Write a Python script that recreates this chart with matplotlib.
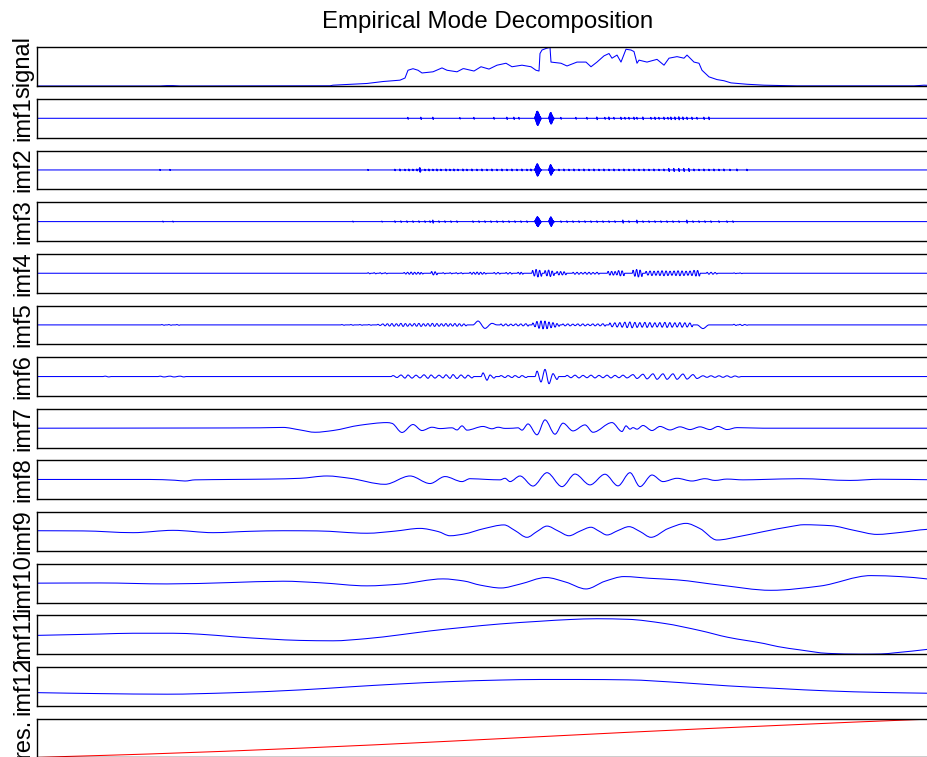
import numpy as np
import matplotlib
matplotlib.use("Agg")
import matplotlib.pyplot as plt
from matplotlib.path import Path
from matplotlib.patches import PathPatch

plt.rcParams["font.family"] = ["Liberation Sans", "DejaVu Sans"]

N = 902  # number of samples shown
LABELS = ["signal"] + [f"imf{k}" for k in range(1, 13)] + ["res."]

# --- signal (arbitrary units, 0..100) ---
SIG_T = [0, 123, 130, 136, 143, 293, 296, 330, 346, 363, 368, 371, 376, 381, 385, 396, 405, 410, 420, 426,
         427, 437, 444, 452, 460, 469, 475, 485, 494, 499, 502, 503, 505, 509, 513, 514, 524, 530, 540, 549,
         554, 560, 567, 572, 575, 580, 584, 589, 594, 597, 600, 602, 610, 620, 627, 632, 640, 647, 650, 657,
         662, 665, 672, 680, 687, 694, 710, 727, 760, 877, 887, 902]
SIG_V = [0.5, 0.5, 1.5, 1.5, 0.5, 1, 2.6, 7, 12, 15.5, 21, 41, 45, 41, 34, 37, 47, 41, 37, 45,
         45, 39, 50, 44, 54, 59, 50, 54, 50, 41, 39, 84, 93, 97, 100, 62, 59, 52, 62, 62,
         50, 62, 78, 84, 72, 80, 62, 95, 93, 89, 59, 67, 62, 69, 54, 72, 76, 72, 80, 62,
         59, 41, 24, 17, 14, 8.5, 5, 2.6, 0.8, 0.8, 2.6, 1]

# --- fast imfs: oscillation cycles (position, amplitude) ---
IMF1_T = [371, 384, 396, 423, 437, 457, 470, 477, 482,
          498, 498.5, 499, 499.5, 500, 500.5, 501, 501.5, 502, 502.5, 503, 503.5, 504,
          512, 512.5, 513, 513.5, 514, 514.5, 515, 515.5, 516, 516.5, 517,
          524, 539, 550, 560, 568, 572, 577, 584, 588, 592, 597, 600, 606, 614, 618, 622, 627, 631,
          634, 638, 642, 646, 650, 655, 660, 667, 672]
IMF1_A = [0.05, 0.06, 0.06, 0.04, 0.05, 0.05, 0.06, 0.06, 0.05,
          0.06, 0.12, 0.2, 0.28, 0.34, 0.37, 0.35, 0.3, 0.24, 0.18, 0.12, 0.07, 0.03,
          0.06, 0.14, 0.22, 0.28, 0.3, 0.27, 0.2, 0.14, 0.09, 0.05, 0.02,
          0.05, 0.05, 0.05, 0.07, 0.05, 0.07, 0.05, 0.06, 0.05, 0.05, 0.06, 0.05, 0.07, 0.05, 0.06, 0.05, 0.06, 0.05,
          0.07, 0.07, 0.08, 0.07, 0.06, 0.06, 0.05, 0.06, 0.07]

IMF2_T = [123, 133, 331, 358, 363, 368, 372, 376, 380, 382.5, 383, 383.5,
          388, 392, 396, 400, 404, 409, 413, 417, 421, 426, 430, 435, 440, 445, 450, 455, 460, 465,
          470, 475, 480, 485, 490, 494,
          498, 498.5, 499, 499.5, 500, 500.5, 501, 501.5, 502, 502.5, 503, 503.5, 504,
          512, 512.5, 513, 513.5, 514, 514.5, 515, 515.5, 516, 516.5, 517,
          522, 527, 532, 537, 542, 547, 552, 557, 562, 567, 572, 577, 582, 587, 592, 597, 602, 607,
          612, 617, 622, 627, 632, 637, 642, 647, 652, 657, 662, 667, 672, 677, 682, 687, 693, 700, 710]
IMF2_A = [0.03, 0.03, 0.03, 0.04, 0.05, 0.04, 0.05, 0.04, 0.05, 0.08, 0.12, 0.08,
          0.04, 0.05, 0.04, 0.05, 0.04, 0.05, 0.04, 0.05, 0.04, 0.05, 0.04, 0.05, 0.04, 0.05, 0.04, 0.05, 0.04, 0.05,
          0.04, 0.05, 0.04, 0.05, 0.04, 0.05,
          0.05, 0.1, 0.17, 0.24, 0.3, 0.32, 0.29, 0.24, 0.18, 0.13, 0.08, 0.05, 0.02,
          0.05, 0.12, 0.2, 0.26, 0.27, 0.22, 0.17, 0.12, 0.07, 0.04, 0.02,
          0.04, 0.05, 0.04, 0.05, 0.04, 0.05, 0.04, 0.05, 0.04, 0.05, 0.04, 0.05, 0.04, 0.05, 0.04, 0.05, 0.04, 0.05,
          0.04, 0.05, 0.04, 0.05, 0.08, 0.08, 0.08, 0.08, 0.08, 0.05, 0.04, 0.05, 0.04, 0.05, 0.04, 0.05, 0.04, 0.05, 0.04]

IMF3_T = [126, 136, 316, 345, 358, 364, 370, 376, 382, 388, 393, 396, 402, 408, 414, 420,
          436, 442, 448, 454, 460, 466, 472, 478, 484, 490,
          498, 498.5, 499, 499.5, 500, 500.5, 501, 501.5, 502, 502.5, 503, 503.5, 504,
          512, 512.5, 513, 513.5, 514, 514.5, 515, 515.5, 516, 516.5, 517,
          524, 530, 536, 542, 548, 554, 560, 566, 572, 578, 586, 592, 600, 606, 612, 618, 624, 630,
          636, 642, 650, 656, 662, 668, 674, 682, 690, 696]
IMF3_A = [0.03, 0.03, 0.03, 0.03, 0.04, 0.04, 0.04, 0.04, 0.04, 0.04, 0.04, 0.08, 0.04, 0.04, 0.04, 0.04,
          0.04, 0.04, 0.04, 0.04, 0.04, 0.04, 0.04, 0.04, 0.04, 0.04,
          0.04, 0.08, 0.13, 0.18, 0.22, 0.26, 0.24, 0.21, 0.17, 0.13, 0.09, 0.05, 0.02,
          0.04, 0.1, 0.16, 0.21, 0.25, 0.22, 0.17, 0.12, 0.07, 0.04, 0.02,
          0.04, 0.04, 0.04, 0.04, 0.04, 0.04, 0.04, 0.04, 0.04, 0.04, 0.08, 0.04, 0.08, 0.04, 0.04, 0.04, 0.04, 0.04,
          0.04, 0.04, 0.08, 0.04, 0.04, 0.04, 0.04, 0.04, 0.04, 0.04]

IMF4_T = [332, 338, 344, 349, 368, 371.5, 375, 378.5, 382, 385, 395.5, 399, 407, 414, 420, 425,
          434, 437.5, 441, 444.5, 448, 458, 462, 470, 474, 482, 485, 496.5, 500, 503.5, 509, 512.5, 516,
          521, 524.5, 528, 537, 541, 545, 549, 553, 557, 561, 572, 575.5, 579, 582.5, 586, 597, 600.5, 604,
          610, 614, 618, 622, 626, 630, 634, 638, 642, 646, 650, 654, 658, 661.5, 671, 675, 679, 698, 704]
IMF4_A = [0.03, 0.03, 0.03, 0.03, 0.04, 0.05, 0.06, 0.05, 0.05, 0.04, 0.09, 0.08, 0.03, 0.03, 0.03, 0.03,
          0.05, 0.05, 0.06, 0.05, 0.04, 0.04, 0.04, 0.04, 0.04, 0.05, 0.05, 0.15, 0.2, 0.16, 0.14, 0.17, 0.12,
          0.09, 0.09, 0.08, 0.05, 0.05, 0.04, 0.05, 0.05, 0.04, 0.05, 0.1, 0.1, 0.09, 0.14, 0.13, 0.16, 0.2, 0.17,
          0.1, 0.12, 0.11, 0.12, 0.13, 0.12, 0.11, 0.12, 0.13, 0.12, 0.11, 0.12, 0.15, 0.15, 0.05, 0.05, 0.04, 0.02, 0.02]

IMF5_T = [126, 133, 141, 306, 315, 324, 333, 342, 347, 351.5, 356, 360.5, 365, 369.5, 374, 378.5, 383, 387.5,
          392, 396.5, 401, 405.5, 410, 414.5, 419, 423.5, 428, 465, 470, 475, 480, 485, 490,
          497, 501, 505, 509, 513, 517, 521, 527, 532, 537, 542, 547, 552, 557, 562, 567,
          574, 579, 584, 589, 594, 599, 604, 609, 614, 619, 624, 629, 634, 639, 644, 649, 654, 698, 704, 709]
IMF5_A = [0.02, 0.02, 0.02, 0.02, 0.02, 0.02, 0.02, 0.03, 0.05, 0.06, 0.07, 0.06, 0.08, 0.07, 0.06, 0.07, 0.08, 0.06,
          0.07, 0.08, 0.07, 0.06, 0.07, 0.06, 0.07, 0.06, 0.05, 0.05, 0.05, 0.04, 0.05, 0.05, 0.06,
          0.1, 0.18, 0.21, 0.2, 0.15, 0.12, 0.07, 0.05, 0.05, 0.04, 0.05, 0.05, 0.04, 0.05, 0.05, 0.06,
          0.1, 0.11, 0.12, 0.14, 0.15, 0.13, 0.12, 0.13, 0.12, 0.11, 0.12, 0.13, 0.12, 0.11, 0.12, 0.11, 0.1, 0.03, 0.03, 0.02]
IMF5_WT = [436, 441, 448, 455, 460, 660, 666, 672]
IMF5_WV = [0, 0.2, -0.18, 0.08, 0, 0, -0.19, 0]

IMF6_T = [70, 125, 135, 145, 358, 366, 373, 381, 389, 396, 404, 411, 418, 426, 433, 448, 455,
          466, 473, 480, 487, 502, 510, 518, 532, 540, 548, 556, 564, 572, 580, 588,
          598, 608, 618, 628, 638, 648, 658, 668, 676, 684, 692, 700]
IMF6_A = [0.02, 0.02, 0.02, 0.02, 0.05, 0.08, 0.08, 0.07, 0.09, 0.08, 0.07, 0.09, 0.1, 0.08, 0.07, 0.19, 0.08,
          0.05, 0.05, 0.05, 0.05, 0.28, 0.37, 0.15, 0.06, 0.07, 0.06, 0.07, 0.06, 0.07, 0.06, 0.07,
          0.1, 0.12, 0.14, 0.14, 0.14, 0.13, 0.1, 0.04, 0.04, 0.04, 0.04, 0.03]

# --- slow imfs: traced points ---
IMF7_T = [0, 163, 223, 246, 263, 278, 296, 323, 350, 355, 365, 376, 385, 395, 403, 415, 420, 425, 430, 446,
          455, 461, 468, 476, 481, 485, 491, 500, 508, 518, 526, 536, 548, 556, 575, 585, 589, 593, 596, 600,
          606, 615, 623, 633, 643, 653, 663, 673, 681, 690, 700, 726, 902]
IMF7_V = [0, 0.01, 0.02, 0.04, -0.09, -0.21, -0.12, 0.155, 0.29, 0.25, -0.22, 0.19, -0.12, 0.05, -0.02, 0.02, -0.09, 0.12, -0.1, 0.09,
          -0.03, 0.05, -0.01, 0, 0.02, -0.1, 0.22, -0.34, 0.43, -0.31, 0.26, -0.14, 0.17, -0.21, 0.29, -0.17, 0.12, -0.05, 0.03, -0.05,
          0.14, -0.12, 0.09, -0.09, 0.07, -0.07, 0.07, -0.07, 0.09, -0.07, 0.03, 0, 0]

IMF8_T = [0, 113, 138, 148, 158, 193, 233, 263, 290, 313, 348, 373, 393, 408, 425, 433, 450, 463, 468, 473,
          483, 496, 510, 525, 538, 553, 568, 581, 593, 603, 615, 626, 640, 655, 668, 678, 690, 706, 726, 763,
          813, 843, 902]
IMF8_V = [0.02, 0.02, -0.02, -0.06, 0, 0.02, 0.04, 0.08, 0.2, 0.08, -0.23, 0.2, -0.19, 0.17, -0.09, 0.06, 0.02, 0, 0.08, -0.09,
          0.2, -0.32, 0.37, -0.35, 0.3, -0.26, 0.29, -0.31, 0.37, -0.35, 0.25, -0.09, 0.08, -0.06, 0.06, -0.03, 0.04, 0, 0.02, 0.06,
          -0.03, 0.03, 0]

IMF9_T = [0, 46, 96, 136, 176, 213, 246, 280, 330, 358, 383, 401, 413, 427, 447, 467, 478, 490, 500, 510,
          521, 532, 543, 554, 562, 570, 581, 592, 603, 614, 631, 649, 663, 680, 703, 727, 753, 767, 794, 818,
          840, 863, 890, 902]
IMF9_V = [0.04, 0.03, -0.06, 0.06, -0.06, 0.01, 0.04, 0.03, -0.09, 0.02, 0.16, 0, -0.22, -0.13, 0.15, 0.34, 0.05, -0.3, 0, 0.28,
          0.03, -0.22, 0.02, 0.22, 0.02, -0.18, 0.05, 0.25, 0, -0.3, 0.15, 0.42, 0.15, -0.44, -0.25, 0, 0.25, 0.35, 0.3, 0.05,
          -0.15, -0.05, 0.11, 0.13]

IMF10_T = [0, 63, 130, 193, 246, 283, 330, 363, 406, 427, 443, 464, 483, 509, 529, 549, 568, 587, 613, 640,
           683, 734, 783, 834, 863, 890, 902]
IMF10_V = [0, 0.01, -0.04, 0.03, 0.1, 0.02, -0.14, -0.05, 0.22, 0.11, -0.1, -0.25, -0.05, 0.29, 0.05, -0.3, 0.1, 0.34, 0.25, 0.17,
           -0.1, -0.37, -0.15, 0.39, 0.34, 0.22, 0.15]

IMF11_T = [0, 63, 96, 136, 163, 196, 233, 263, 296, 329, 363, 393, 426, 463, 503, 533, 560, 591, 627, 663,
           691, 727, 741, 763, 791, 824, 844, 858, 891, 902]
IMF11_V = [-0.03, 0.04, 0.08, 0.08, 0.03, -0.1, -0.22, -0.29, -0.31, -0.2, 0, 0.2, 0.38, 0.56, 0.7, 0.79, 0.83, 0.8, 0.59, 0.22,
           -0.13, -0.45, -0.61, -0.78, -0.96, -1.0, -0.99, -0.93, -0.75, -0.68]

IMF12_T = [0, 63, 130, 193, 263, 313, 363, 413, 463, 503, 543, 591, 643, 691, 743, 791, 843, 891, 902]
IMF12_V = [-0.32, -0.37, -0.4, -0.33, -0.18, -0.02, 0.13, 0.25, 0.33, 0.36, 0.36, 0.34, 0.2, 0.03, -0.11, -0.23, -0.31, -0.35, -0.36]

RES_T = [0, 23, 113, 263, 413, 591, 743, 891, 902]
RES_V = [0, 0.02, 0.09, 0.24, 0.42, 0.65, 0.83, 0.99, 1.0]


def cycles(ct, ca, q, wt=(), wv=()):
    """polyline from oscillation cycles (+a then -a around t) plus slow points"""
    assert len(ct) == len(ca) and len(wt) == len(wv)
    pts = [(0.0, 0.0), (float(N), 0.0)] + list(zip(wt, wv))
    cyc = sorted(zip(ct, ca))
    for i, (t, a) in enumerate(cyc):
        gp = t - cyc[i - 1][0] if i else 1e9
        gn = cyc[i + 1][0] - t if i < len(cyc) - 1 else 1e9
        if gp > 5 * q: pts.append((t - 2 * q, 0.0))
        pts += [(t - q, a), (t + q, -a)]
        if gn > 5 * q: pts.append((t + 2 * q, 0.0))
    pts.sort()
    return np.array(pts).T


def smooth_path(t, v):
    """bezier path through the points, flat at local extrema (monotone tangents)"""
    t = np.asarray(t, float); v = np.asarray(v, float)
    d = np.diff(v) / np.diff(t)
    m = np.zeros_like(v); m[0] = d[0]; m[-1] = d[-1]
    for i in range(1, len(v) - 1):
        if d[i - 1] * d[i] > 0: m[i] = 2 / (1 / d[i - 1] + 1 / d[i])
    verts, codes = [(t[0], v[0])], [Path.MOVETO]
    for i in range(len(t) - 1):
        h = t[i + 1] - t[i]
        verts += [(t[i] + h / 3, v[i] + m[i] * h / 3), (t[i + 1] - h / 3, v[i + 1] - m[i + 1] * h / 3), (t[i + 1], v[i + 1])]
        codes += [Path.CURVE4] * 3
    return Path(verts, codes)


rows = [(SIG_T, SIG_V)]
for ct, ca, q, wt, wv in [(IMF1_T, IMF1_A, 0.2, (), ()), (IMF2_T, IMF2_A, 0.2, (), ()),
                          (IMF3_T, IMF3_A, 0.2, (), ()), (IMF4_T, IMF4_A, 0.9, (), ()),
                          (IMF5_T, IMF5_A, 1.1, IMF5_WT, IMF5_WV), (IMF6_T, IMF6_A, 2.0, (), ())]:
    rows.append(tuple(cycles(ct, ca, q, wt, wv)))
rows += [(IMF7_T, IMF7_V), (IMF8_T, IMF8_V), (IMF9_T, IMF9_V), (IMF10_T, IMF10_V),
         (IMF11_T, IMF11_V), (IMF12_T, IMF12_V), (RES_T, RES_V)]
for t, v in rows: assert len(t) == len(v)

M = max(np.max(np.abs(v)) for _, v in rows[1:13])

W, H = 928, 757
fig = plt.figure(figsize=(W / 100, H / 100), dpi=100)
for i, (lab, (t, v)) in enumerate(zip(LABELS, rows)):
    top = 47.3 + 51.65 * i
    ax = fig.add_axes([37 / W, 1 - (top + 38.7) / H, 902 / W, 38.7 / H])
    col = "red" if lab == "res." else "blue"
    if i < 4:
        ax.plot(t, v, color=col, lw=0.75)
    else:
        ax.add_patch(PathPatch(smooth_path(t, v), fill=False, edgecolor=col, lw=0.75))
    ax.set_xlim(0, N)
    if 0 < i < 13: ax.set_ylim(-M, M)
    else: ax.set_ylim(min(v), max(v))
    ax.set_xticks([]); ax.set_yticks([])
    for s in ax.spines.values(): s.set_linewidth(1.0); s.set_color("black")
    fig.text(29 / W, 1 - (top + 19.35) / H, lab, rotation=90, rotation_mode="anchor",
             ha="center", va="baseline", fontsize=17)
fig.text(488 / W, 1 - 28 / H, "Empirical Mode Decomposition", ha="center", va="baseline", fontsize=17.3)
fig.savefig("out.png", dpi=100)
